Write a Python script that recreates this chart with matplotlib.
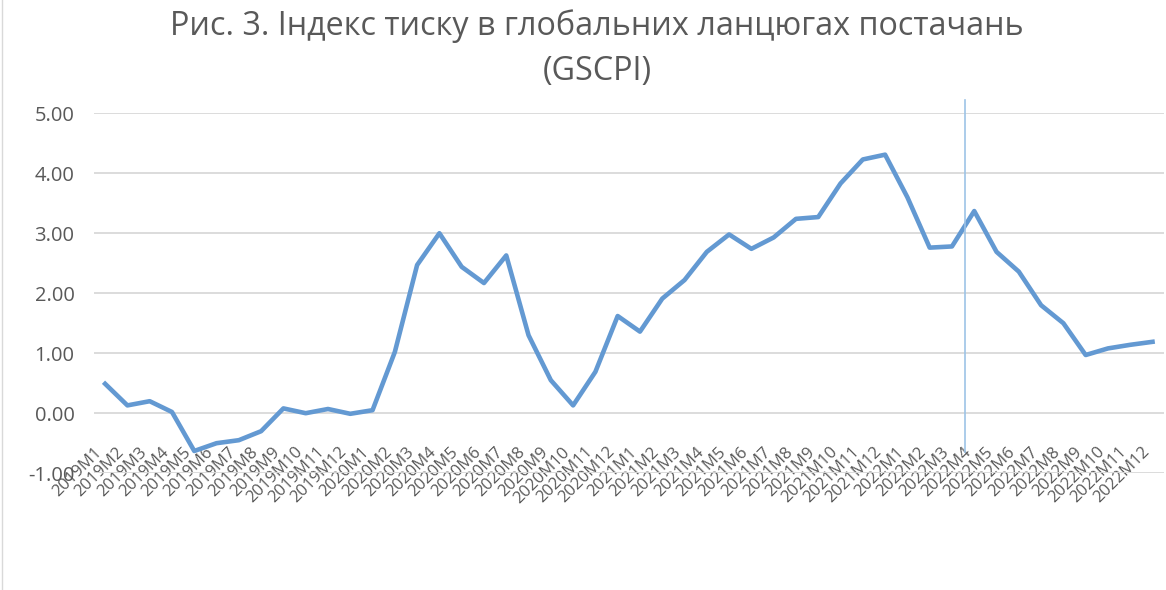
#!/usr/bin/env python3

import numpy as np
from matplotlib import pyplot as plt
from matplotlib.lines import Line2D

months = [f"{y}M{m}" for y in (2019, 2020, 2021, 2022) for m in range(1, 13)]

gscpi = [
    0.49, 0.13, 0.20, 0.02, -0.63, -0.50, -0.45, -0.30, 0.08, 0.00, 0.07, -0.01,
    0.05, 1.02, 2.47, 3.00, 2.44, 2.17, 2.63, 1.30, 0.55, 0.13, 0.69, 1.62,
    1.36, 1.91, 2.22, 2.69, 2.98, 2.74, 2.93, 3.24, 3.27, 3.83, 4.23, 4.31,
    3.60, 2.76, 2.78, 3.37, 2.69, 2.36, 1.80, 1.50, 0.97, 1.08, 1.14, 1.19,
]

yticks = [-1, 0, 1, 2, 3, 4, 5]

plt.rcParams['font.family'] = ['Open Sans', 'DejaVu Sans']
gray = '#595959'

fig = plt.figure(figsize=(11.66, 5.90), dpi=100)
ax = fig.add_axes([0.0806, 0.198, 0.9174, 0.610])

x = np.arange(len(months))
ax.plot(x, gscpi, color='#6399d2', lw=3.3, solid_joinstyle='round', zorder=3)

ax.set_xlim(-0.5, len(months) - 0.5)
ax.set_ylim(-1, 5)
ax.set_yticks(yticks)
ax.set_yticklabels([f"{v:.2f}" for v in yticks])
ax.yaxis.grid(True, color='#d9d9d9', lw=1.3)
ax.set_axisbelow(True)
for s in ax.spines.values():
    s.set_visible(False)

ax.set_xticks(x)
ax.set_xticklabels(months, rotation=45, ha='right')
ax.tick_params(axis='x', length=0, pad=-21, labelsize=12, labelcolor=gray)
ax.tick_params(axis='y', length=0, pad=14, labelsize=14.5, labelcolor=gray)

# thin marker line drawn over the chart
trans = ax.get_xaxis_transform()
ax.add_line(Line2D([38.6, 38.6], [0.058, 1.036], transform=trans,
                   color='#9dc3e6', lw=1.2, clip_on=False, zorder=4))

fig.text(0.512, 0.985, "Рис. 3. Індекс тиску в глобальних ланцюгах постачань\n(GSCPI)",
         ha='center', va='top', fontsize=23.3, color=gray, linespacing=1.5)

# chart border on the left
fig.add_artist(Line2D([0.0015, 0.0015], [0, 1], transform=fig.transFigure,
                      color='#d9d9d9', lw=1))

plt.savefig("out.png", dpi=100)
